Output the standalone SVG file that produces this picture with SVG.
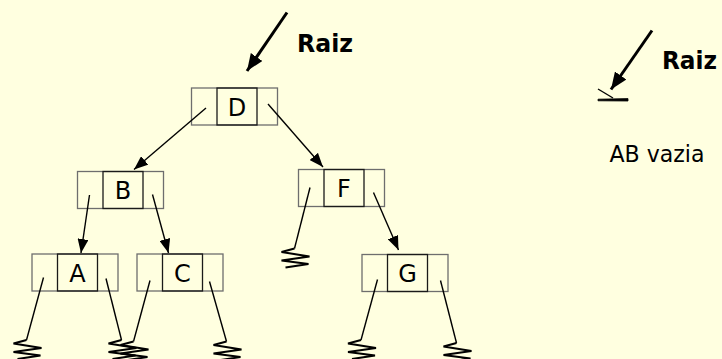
<svg xmlns="http://www.w3.org/2000/svg" xmlns:xlink="http://www.w3.org/1999/xlink" width="722" height="359" viewBox="0 0 722 359">
  <style>
    .cell { fill: none; stroke: #6e6e6e; stroke-width: 1.3; }
    .key { fill: none; stroke: #1a1a1a; stroke-width: 1.3; }
    .lbl { font-family: "DejaVu Sans", Verdana, sans-serif; font-size: 24px; fill: #000; text-anchor: middle; }
    .raiz { font-family: "DejaVu Sans", Verdana, sans-serif; font-size: 24px; font-weight: bold; fill: #000; }
    .note { font-family: "DejaVu Sans", Verdana, sans-serif; font-size: 23px; fill: #000; }
    .link { stroke: #000; stroke-width: 1.4; fill: none; }
    .ptr { stroke: #000; stroke-width: 1.4; fill: none; marker-end: url(#head); }
    .root { stroke: #000; stroke-width: 3; fill: none; marker-end: url(#bighead); }
    .nil { stroke: #000; stroke-width: 2; fill: none; stroke-linejoin: miter; }
  </style>
  <defs>
    <marker id="head" viewBox="0 0 14 11" refX="14" refY="5.5" markerWidth="14" markerHeight="11" markerUnits="userSpaceOnUse" orient="auto">
      <path d="M0,0 L14,5.5 L0,11 Z" fill="#000"/>
    </marker>
    <marker id="bighead" viewBox="0 0 17 14" refX="17" refY="7" markerWidth="17" markerHeight="14" markerUnits="userSpaceOnUse" orient="auto">
      <path d="M0,0 L17,7 L0,14 Z" fill="#000"/>
    </marker>
    <!-- null pointer zigzag, anchored at the end of its line -->
    <path id="zig" class="nil" d="M0,0 L-13,3.5 L15,8 L-13,12 L14,15.5 L-9,19"/>
    <!-- three-cell node: left link, key, right link -->
    <g id="box">
      <rect class="cell" x="0" y="0" width="86" height="37"/>
      <rect class="key" x="25.5" y="0" width="40" height="37"/>
    </g>
  </defs>

  <rect width="722" height="359" fill="#FFFFE0"/>

  <!-- nodes -->
  <g id="node-D">
    <use xlink:href="#box" x="191.5" y="88"/>
    <text class="lbl" x="237" y="115.5">D</text>
  </g>
  <g id="node-B">
    <use xlink:href="#box" x="77.5" y="171.5"/>
    <text class="lbl" x="123" y="199">B</text>
  </g>
  <g id="node-F">
    <use xlink:href="#box" x="298.5" y="169.5"/>
    <text class="lbl" x="344" y="197">F</text>
  </g>
  <g id="node-A">
    <use xlink:href="#box" x="32" y="254"/>
    <text class="lbl" x="77.5" y="281.5">A</text>
  </g>
  <g id="node-C">
    <use xlink:href="#box" x="137" y="254"/>
    <text class="lbl" x="182.5" y="281.5">C</text>
  </g>
  <g id="node-G">
    <use xlink:href="#box" x="362" y="254.5"/>
    <text class="lbl" x="407.5" y="282">G</text>
  </g>

  <!-- root labels -->
  <g id="root-tree">
    <text class="raiz" x="297" y="52" textLength="56" lengthAdjust="spacingAndGlyphs">Raiz</text>
  </g>
  <g id="root-empty">
    <text class="raiz" x="662" y="69" textLength="55" lengthAdjust="spacingAndGlyphs">Raiz</text>
    <text class="note" x="609.5" y="162" textLength="95" lengthAdjust="spacingAndGlyphs">AB vazia</text>
  </g>

  <!-- connectors -->
  <g id="connectors">
    <line class="root" x1="287" y1="12.5" x2="247" y2="71"/>
    <line class="root" x1="652" y1="30.5" x2="611" y2="89.5"/>

    <line class="ptr" x1="206" y1="108" x2="134" y2="169.5"/>
    <line class="ptr" x1="268" y1="104" x2="323" y2="167"/>
    <line class="ptr" x1="89.5" y1="195" x2="81" y2="253"/>
    <line class="ptr" x1="152.5" y1="194.5" x2="168.5" y2="253"/>
    <line class="ptr" x1="373.5" y1="192.5" x2="398.5" y2="250"/>

    <line class="link" x1="43.5" y1="277.5" x2="26.5" y2="340"/>
    <line class="link" x1="106" y1="278.5" x2="121.5" y2="340"/>
    <line class="link" x1="150" y1="280.5" x2="133.5" y2="341.5"/>
    <line class="link" x1="209.5" y1="281.5" x2="226.5" y2="341.5"/>
    <line class="link" x1="310" y1="187.5" x2="294.5" y2="248.5"/>
    <line class="link" x1="377.5" y1="279.5" x2="361" y2="340"/>
    <line class="link" x1="440.5" y1="280.5" x2="456.5" y2="343"/>

    <use xlink:href="#zig" x="26.5" y="340"/>
    <use xlink:href="#zig" x="121.5" y="340"/>
    <use xlink:href="#zig" x="133.5" y="341.5"/>
    <use xlink:href="#zig" x="226.5" y="341.5"/>
    <use xlink:href="#zig" x="294.5" y="248.5"/>
    <use xlink:href="#zig" x="361" y="340"/>
    <use xlink:href="#zig" x="456.5" y="343"/>

    <!-- empty-tree null mark -->
    <line class="link" x1="598" y1="89" x2="613" y2="98"/>
    <path d="M598,99.2 L628,98.6 L628,101 L598,100.8 Z" fill="#000" stroke="#000" stroke-width="0.8"/>
  </g>
</svg>
